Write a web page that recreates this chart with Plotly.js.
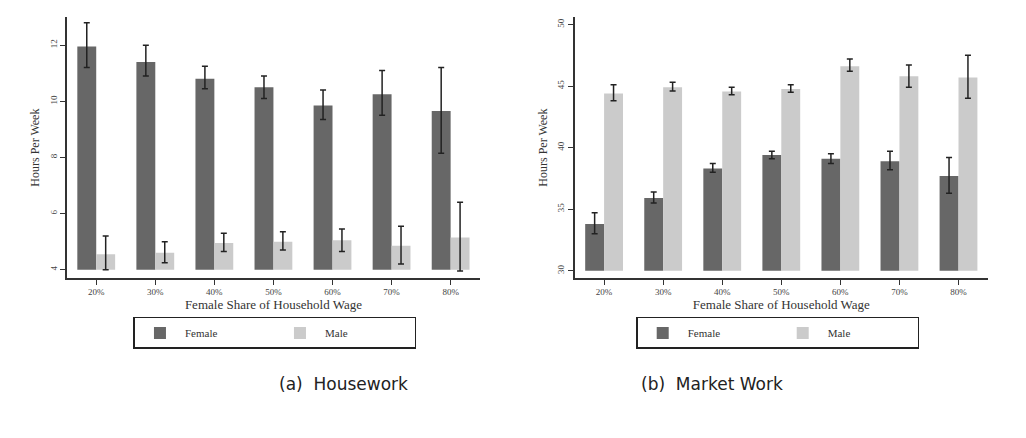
<!DOCTYPE html>
<html>
<head>
<script src="https://cdn.plot.ly/plotly-3.0.1.min.js"></script>
<style>body{margin:0;background:#fff}</style>
</head>
<body>
<div id="plot" style="width:1026px;height:438px"></div>
<script>
const shares = ['20%', '30%', '40%', '50%', '60%', '70%', '80%']

const houseFemale = [11.95, 11.4, 10.8, 10.5, 9.85, 10.25, 9.65]
const houseFemaleLo = [11.2, 10.9, 10.45, 10.1, 9.35, 9.5, 8.15]
const houseFemaleHi = [12.8, 12.0, 11.25, 10.9, 10.4, 11.1, 11.2]
const houseMale = [4.55, 4.6, 4.95, 5.0, 5.05, 4.85, 5.15]
const houseMaleLo = [4.0, 4.25, 4.65, 4.7, 4.65, 4.2, 3.95]
const houseMaleHi = [5.2, 5.0, 5.3, 5.35, 5.45, 5.55, 6.4]

const marketFemale = [33.8, 35.9, 38.3, 39.4, 39.1, 38.9, 37.7]
const marketFemaleLo = [33.0, 35.5, 38.0, 39.1, 38.7, 38.2, 36.3]
const marketFemaleHi = [34.7, 36.4, 38.7, 39.7, 39.5, 39.7, 39.2]
const marketMale = [44.4, 44.9, 44.55, 44.75, 46.6, 45.8, 45.7]
const marketMaleLo = [43.8, 44.6, 44.3, 44.5, 46.2, 44.9, 44.0]
const marketMaleHi = [45.1, 45.3, 44.9, 45.1, 47.2, 46.7, 47.5]

const darkGrey = '#676767'
const lightGrey = '#cbcbcb'

function barTrace(name, vals, lo, hi, base, color, xa, ya, legend)
{
    return {
        type: 'bar', name: name, x: shares,
        y: vals.map(v => v - base), base: base,
        marker: {color: color, line: {color: color, width: 0}},
        error_y: {
            type: 'data', symmetric: false,
            array: hi.map((h, i) => h - vals[i]),
            arrayminus: vals.map((v, i) => v - lo[i]),
            color: '#222', thickness: 1.5, width: 3
        },
        xaxis: xa, yaxis: ya, legend: legend
    }
}

const data = [
    barTrace('Female', houseFemale, houseFemaleLo, houseFemaleHi, 4, darkGrey, 'x', 'y', 'legend'),
    barTrace('Male', houseMale, houseMaleLo, houseMaleHi, 4, lightGrey, 'x', 'y', 'legend'),
    barTrace('Female', marketFemale, marketFemaleLo, marketFemaleHi, 30, darkGrey, 'x2', 'y2', 'legend2'),
    barTrace('Male', marketMale, marketMaleLo, marketMaleHi, 30, lightGrey, 'x2', 'y2', 'legend2')
]

const serif = 'Liberation Serif, serif'
const axisCommon = {
    showline: true, linecolor: '#333', linewidth: 1.5,
    ticks: 'outside', ticklen: 5, tickcolor: '#333',
    showgrid: false, zeroline: false,
    tickfont: {family: serif, size: 9, color: '#444'}
}
const xTitle = {text: 'Female Share of Household Wage', font: {family: serif, size: 13, color: '#333'}, standoff: 0}
const yTitle = {text: 'Hours Per Week', font: {family: serif, size: 12, color: '#333'}, standoff: 6}

function legendBox(x)
{
    return {
        orientation: 'h', x: x, y: 0.24, xanchor: 'center', yanchor: 'middle',
        bordercolor: '#222', borderwidth: 1.5, bgcolor: '#fff',
        font: {family: serif, size: 11, color: '#333'},
        itemwidth: 40, entrywidth: 85, traceorder: 'normal', tracegroupgap: 0
    }
}

const layout = {
    width: 1026, height: 438,
    margin: {l: 0, r: 0, t: 0, b: 0},
    paper_bgcolor: '#fff', plot_bgcolor: '#fff',
    barmode: 'group', bargap: 0.36, bargroupgap: 0,
    xaxis: Object.assign({}, axisCommon, {type: 'category', domain: [0.065, 0.468], anchor: 'y', title: xTitle}),
    yaxis: Object.assign({}, axisCommon, {domain: [0.365, 0.961], anchor: 'x', range: [3.7, 13],
        tickvals: [4, 6, 8, 10, 12], tickangle: -90, title: yTitle}),
    xaxis2: Object.assign({}, axisCommon, {type: 'category', domain: [0.56, 0.963], anchor: 'y2', title: xTitle}),
    yaxis2: Object.assign({}, axisCommon, {domain: [0.365, 0.961], anchor: 'x2', range: [29.4, 50.6],
        tickvals: [30, 35, 40, 45, 50], tickangle: -90, title: yTitle}),
    legend: legendBox(0.268),
    legend2: legendBox(0.758),
    annotations: [
        {text: '(a)  Housework', x: 0.27, y: 0.095, xref: 'paper', yref: 'paper', showarrow: false,
            font: {family: 'DejaVu Sans, sans-serif', size: 17, color: '#222'}},
        {text: '(b)  Market Work', x: 0.765, y: 0.095, xref: 'paper', yref: 'paper', showarrow: false,
            font: {family: 'DejaVu Sans, sans-serif', size: 17, color: '#222'}}
    ]
}

Plotly.newPlot('plot', data, layout, {displayModeBar: false, staticPlot: true})
</script>
</body>
</html>
